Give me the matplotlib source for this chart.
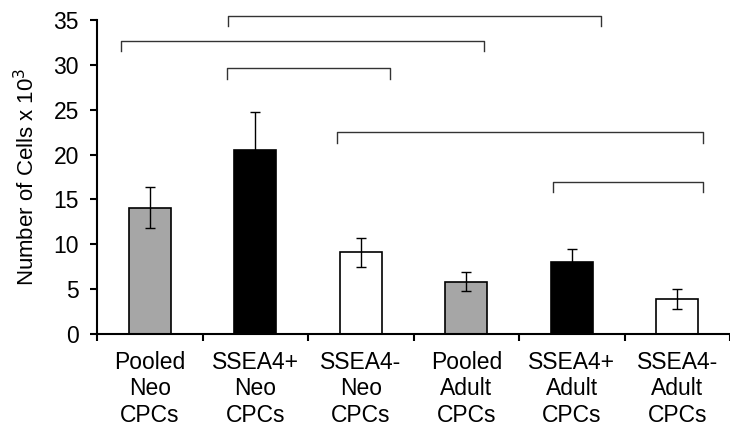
import matplotlib.pyplot as plt
import numpy as np

plt.rcParams['font.family'] = ['Liberation Sans', 'DejaVu Sans']

# Data
groups = ["Pooled\nNeo\nCPCs", "SSEA4+\nNeo\nCPCs", "SSEA4-\nNeo\nCPCs",
          "Pooled\nAdult\nCPCs", "SSEA4+\nAdult\nCPCs", "SSEA4-\nAdult\nCPCs"]
means = [14.1, 20.5, 9.1, 5.85, 8.05, 3.9]
errors = [2.3, 4.2, 1.6, 1.05, 1.4, 1.15]
colors = ["#a6a6a6", "#000000", "#ffffff", "#a6a6a6", "#000000", "#ffffff"]

# significance brackets: (x start, x end, height, leg length)
brackets = [
    (0.74, 4.28, 35.5, 1.2),
    (-0.27, 3.17, 32.7, 1.2),
    (0.73, 2.28, 29.6, 1.2),
    (1.77, 5.24, 22.5, 1.2),
    (3.82, 5.24, 16.9, 1.1),
]

fig = plt.figure(figsize=(7.3, 4.29), dpi=100)
ax = fig.add_axes([0.133, 0.2214, 0.867, 0.732])

x = np.arange(len(groups))
ax.bar(x, means, width=0.4, color=colors, edgecolor="black", linewidth=1.2,
       yerr=errors, capsize=3.8, error_kw=dict(ecolor="black", elinewidth=1, capthick=1),
       zorder=2)

for x0, x1, h, leg in brackets:
    ax.plot([x0, x0, x1, x1], [h - leg, h, h, h - leg], color="#333333",
            linewidth=1, clip_on=False)

ax.set_xlim(-0.5, 5.44)
ax.set_ylim(0, 35)
ax.set_yticks(np.arange(0, 36, 5))
ax.set_xticks(x)
ax.set_xticklabels(groups, fontsize=16.5, linespacing=1.2)
ax.set_xticks(np.arange(-0.5, 6, 1), minor=True)
ax.tick_params(axis="x", which="major", length=0, pad=12)
ax.tick_params(axis="x", which="minor", length=5, width=1.5, direction="out")
ax.tick_params(axis="y", length=5, width=1.5, labelsize=16.5, pad=8)
ax.set_ylabel("Number of Cells x 10$^3$", fontsize=16, labelpad=10)

for s in ["top", "right"]:
    ax.spines[s].set_visible(False)
for s in ["left", "bottom"]:
    ax.spines[s].set_linewidth(1.5)

plt.savefig("out.png", dpi=100)
plt.close()
